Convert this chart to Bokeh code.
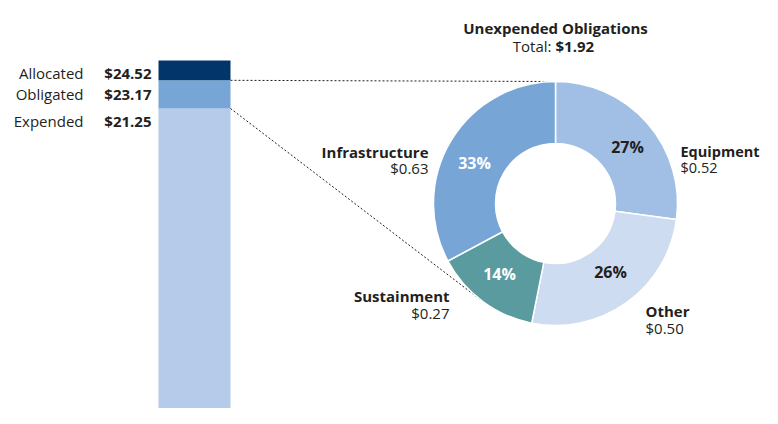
import math
from bokeh.plotting import figure
from bokeh.models import Range1d
from bokeh.core.properties import value
from bokeh.embed import file_html
from bokeh.resources import INLINE

# ---------------- data ----------------
bar_labels = ["Expended", "Obligated", "Allocated"]
bar_values = [21.25, 23.17, 24.52]
bar_colors = ["#b6cbea", "#77a5d6", "#02356a"]

donut_labels = ["Equipment", "Other", "Sustainment", "Infrastructure"]
donut_values = [0.52, 0.50, 0.27, 0.63]
donut_colors = ["#a1bee4", "#cedcf1", "#5a9b9f", "#77a5d6"]
pct_colors = ["#231f20", "#231f20", "#ffffff", "#ffffff"]

title_text = "Unexpended Obligations"
total_prefix = "Total:"

# ---------------- layout ----------------
W, H = 762, 408
FONT = "Open Sans"
DARK = "#231f20"

def PY(page_y):
    return H - page_y

BAR_X0, BAR_X1 = 158, 230
TOP_PAGE, EXP_PAGE = 60, 108
k = (EXP_PAGE - TOP_PAGE) / (bar_values[2] - bar_values[0])
usd_end = bar_values[2] + TOP_PAGE / k
usd_start = usd_end - H / k

def usd_Y(v):
    return H - (usd_end - v) * k

CX, CY = 555, 203
R_IN, R_OUT = 60, 122

p = figure(width=W, height=H, x_range=Range1d(0, W), y_range=Range1d(0, H),
           output_backend="svg", toolbar_location=None, min_border=0,
           x_axis_location=None, y_axis_location=None, outline_line_color=None)
p.grid.visible = False
p.extra_y_ranges = {"usd": Range1d(usd_start, usd_end)}

# stacked bar
bottoms = [0] + bar_values[:-1]
p.vbar(x=[(BAR_X0 + BAR_X1) / 2] * 3, width=BAR_X1 - BAR_X0, bottom=bottoms, top=bar_values,
       fill_color=bar_colors, line_color=None, y_range_name="usd")

# donut geometry
total = sum(donut_values)
starts, ends, mids = [], [], []
cum = 0.0
for v in donut_values:
    a0 = math.pi / 2 - 2 * math.pi * cum / total
    cum += v
    a1 = math.pi / 2 - 2 * math.pi * cum / total
    starts.append(a0); ends.append(a1); mids.append((a0 + a1) / 2)

# dotted connector lines
yo = usd_Y(bar_values[1])
ye = usd_Y(bar_values[0])
sm = mids[2]
p.line([BAR_X1, CX], [yo, PY(CY) + R_OUT], line_color=DARK, line_dash="2 2", line_width=1)
p.line([BAR_X1, CX + R_OUT * math.cos(sm)], [ye, PY(CY) + R_OUT * math.sin(sm)],
       line_color=DARK, line_dash="2 2", line_width=1)

p.annular_wedge(x=[CX] * 4, y=[PY(CY)] * 4, inner_radius=R_IN, outer_radius=R_OUT,
                start_angle=starts, end_angle=ends, direction="clock",
                fill_color=donut_colors, line_color="white", line_width=1.5)

def txt(x, page_y, s, align="left", bold=False, size=15, color=DARK, baseline="alphabetic"):
    p.text(x=[x], y=[PY(page_y)], text=[s], text_align=align, text_baseline=baseline,
           text_font=value(FONT), text_font_size=value(f"{size}px"),
           text_font_style="bold" if bold else "normal", text_color=color)

# bar labels
bar_label_base = [120, 93, 72]
for lab, v, b in zip(bar_labels, bar_values, bar_label_base):
    txt(83, b, lab, align="right")
    txt(151, b, f"${v:.2f}", align="right", bold=True)

# title
txt(CX, 27, title_text, align="center", bold=True)
txt(551, 45, total_prefix, align="right")
txt(555, 45, f"${total:.2f}", align="left", bold=True)

# donut labels
lab_pos = [(680, 151, 167, "left"), (645, 310, 327, "left"),
           (449, 295, 312, "right"), (428, 151, 167, "right")]
lab_size = [14.5, 15, 15, 15]
pct_pos = [(627, 146.5), (610, 271), (499, 273.5), (474, 162.5)]
for lab, v, (lx, b1, b2, al), fs, (px, py), pc in zip(donut_labels, donut_values, lab_pos,
                                                       lab_size, pct_pos, pct_colors):
    txt(lx, b1, lab, align=al, bold=True, size=fs)
    txt(lx, b2, f"${v:.2f}", align=al, size=fs)
    txt(px, py, f"{round(100 * v / total)}%", align="center", bold=True, size=16,
        color=pc, baseline="middle")

open("out.html", "w").write(file_html(p, INLINE))
